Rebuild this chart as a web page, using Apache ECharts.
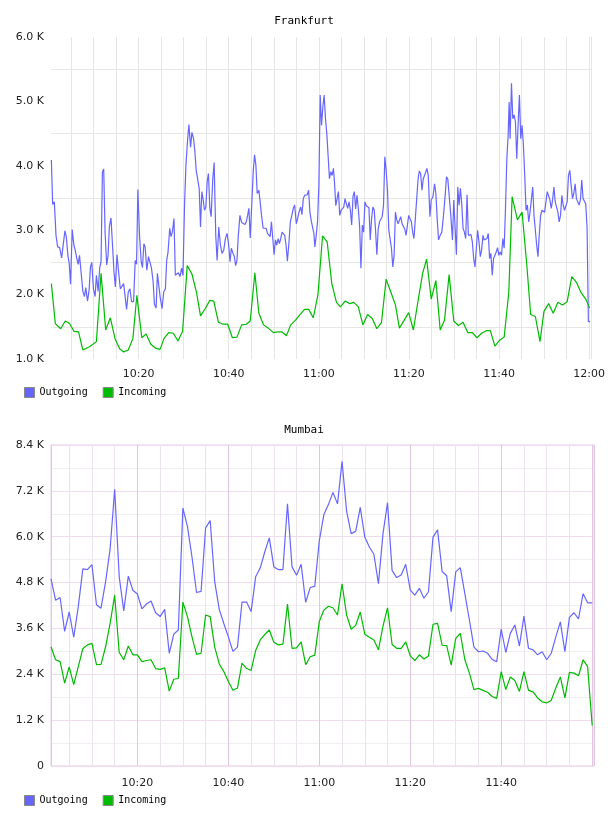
<!DOCTYPE html>
<html>
<head>
<meta charset="utf-8">
<title>Frankfurt / Mumbai</title>
<script src="https://cdn.jsdelivr.net/npm/echarts@6/dist/echarts.min.js"></script>
<style>
  html, body { margin: 0; padding: 0; background: #fff; }
  #chart { width: 608px; height: 816px; }
</style>
</head>
<body>
<div id="chart"></div>
<script>
// ---- data: [minutes after 10:00, value in K] ----
const seriesNames = ['Outgoing', 'Incoming'];

const frankfurtOut = [
  [0.63,4.09],[0.92,3.40],[1.29,3.44],[1.66,2.92],[2.02,2.74],[2.47,2.73],[2.91,2.57],[3.27,2.57],[3.64,2.99],[3.94,2.90],
  [4.30,2.61],[4.60,2.48],[4.89,2.16],[5.26,3.01],[5.63,2.77],[5.92,2.69],[6.29,2.56],[6.59,2.47],[6.88,2.61],[7.25,2.59],
  [7.62,2.05],[7.98,1.97],[8.28,2.11],[8.65,1.90],[9.01,2.07],[9.31,2.43],[9.60,2.50],[9.97,2.09],[10.34,1.97],[10.63,2.30],
  [11.00,2.05],[11.37,2.42],[11.66,2.51],[11.96,3.90],[12.25,3.95],[12.55,2.98],[12.91,2.46],[13.21,2.60],[13.50,3.05],[13.87,3.19],
  [14.24,2.72],[14.53,2.35],[14.83,2.12],[15.20,2.62],[15.56,2.35],[15.93,2.09],[16.30,2.12],[16.67,2.17],[16.96,2.15],[17.33,1.77],
  [17.70,2.04],[18.07,2.09],[18.43,1.89],[18.88,1.89],[19.24,2.53],[19.54,2.47],[19.83,3.63],[20.20,2.92],[20.57,2.51],[20.86,2.42],
  [21.16,2.79],[21.45,2.74],[21.82,2.38],[22.19,2.59],[22.48,2.59],[22.85,2.41],[23.22,2.20],[23.51,1.85],[23.88,1.79],[24.17,2.33],
  [24.47,2.30],[24.76,1.97],[25.20,1.78],[25.57,2.04],[25.94,2.09],[26.23,2.53],[26.53,2.66],[26.90,3.03],[27.19,2.90],[27.48,2.97],
  [27.85,3.18],[28.15,2.30],[28.51,2.31],[28.81,2.34],[29.18,2.28],[29.54,2.41],[29.84,2.30],[30.21,3.44],[30.50,4.01],[30.87,4.40],
  [31.16,4.64],[31.53,4.29],[31.83,4.52],[32.19,4.42],[32.49,4.22],[32.78,3.93],[33.08,3.91],[33.44,3.65],[33.74,3.05],[34.03,3.60],
  [34.33,3.47],[34.62,3.31],[34.92,3.36],[35.21,3.75],[35.50,3.88],[35.80,3.35],[36.09,3.21],[36.46,3.80],[36.76,4.05],[37.12,2.92],
  [37.42,2.53],[37.79,3.05],[38.15,2.77],[38.52,2.64],[38.89,2.69],[39.26,2.87],[39.63,2.95],[39.99,2.77],[40.29,2.51],[40.58,2.72],
  [40.95,2.64],[41.25,2.59],[41.54,2.45],[41.83,2.53],[42.13,2.92],[42.49,3.23],[42.86,3.12],[43.23,3.13],[43.60,3.09],[43.89,3.13],
  [44.19,3.23],[44.48,3.34],[44.77,2.88],[45.07,3.34],[45.44,3.91],[45.73,4.17],[46.03,4.01],[46.32,3.57],[46.69,3.62],[46.98,3.44],
  [47.28,3.23],[47.64,3.03],[47.94,3.02],[48.31,3.03],[48.60,2.95],[48.90,2.97],[49.19,2.90],[49.48,3.13],[49.78,2.87],[50.07,2.62],
  [50.37,2.85],[50.66,2.77],[50.96,2.87],[51.25,2.79],[51.54,2.87],[51.84,2.97],[52.13,2.95],[52.43,2.92],[52.72,2.77],[53.02,2.52],
  [53.38,2.82],[53.68,3.13],[54.05,3.13],[54.34,3.34],[54.63,3.39],[55.00,3.10],[55.30,3.18],[55.59,3.28],[55.96,3.36],[56.25,3.24],
  [56.55,3.49],[56.84,3.54],[57.14,3.52],[57.43,3.55],[57.73,3.62],[58.02,3.28],[58.31,3.15],[58.61,3.16],[58.90,2.95],[59.12,2.74],
  [59.42,2.92],[59.71,3.13],[60.01,3.70],[60.30,5.10],[60.60,4.63],[60.89,4.91],[61.18,5.10],[61.48,4.73],[61.77,4.50],[62.07,4.47],
  [62.36,3.80],[62.66,3.91],[62.95,3.85],[63.24,3.96],[63.47,3.75],[63.76,3.38],[64.05,3.49],[64.35,3.60],[64.64,3.23],[64.94,3.31],
  [65.23,3.28],[65.53,3.36],[65.82,3.49],[66.11,3.41],[66.41,3.34],[66.70,3.44],[67.00,3.31],[67.29,3.08],[67.59,3.53],[67.88,3.60],
  [68.17,3.33],[68.47,3.54],[68.76,3.34],[69.06,3.05],[69.35,2.41],[69.65,3.08],[69.94,2.97],[70.23,3.44],[70.53,3.38],[70.82,3.40],
  [71.12,3.35],[71.41,2.85],[71.71,3.18],[72.00,3.36],[72.30,3.31],[72.59,3.00],[72.88,2.62],[73.18,3.02],[73.47,3.13],[73.77,3.13],
  [74.06,3.21],[74.36,3.39],[74.65,4.14],[74.94,3.93],[75.24,3.62],[75.53,3.00],[75.83,2.97],[76.12,2.72],[76.42,2.43],[76.71,2.61],
  [77.00,3.28],[77.30,3.16],[77.59,3.10],[77.89,3.13],[78.18,3.21],[78.48,3.10],[78.77,3.13],[79.06,3.02],[79.36,2.92],[79.65,2.95],
  [79.95,3.23],[80.24,3.18],[80.54,3.13],[80.83,2.97],[81.12,2.87],[81.42,3.18],[81.71,3.21],[82.01,3.78],[82.30,3.92],[82.60,3.88],
  [82.89,3.62],[83.19,3.80],[83.48,3.83],[83.77,3.91],[83.99,3.96],[84.29,3.85],[84.66,3.21],[84.95,3.47],[85.32,3.52],[85.69,3.72],
  [85.98,3.57],[86.27,3.18],[86.57,2.85],[86.94,2.92],[87.30,2.97],[87.67,3.23],[88.04,3.54],[88.34,3.83],[88.63,3.79],[88.92,3.80],
  [89.29,3.23],[89.66,2.85],[89.95,3.47],[90.25,3.48],[90.54,2.62],[90.84,3.67],[91.13,3.39],[91.43,3.65],[91.72,3.41],[92.01,3.03],
  [92.31,2.97],[92.60,2.87],[92.90,3.55],[93.19,2.92],[93.49,2.90],[93.78,2.93],[94.07,2.82],[94.37,2.56],[94.66,2.43],[94.96,2.72],
  [95.25,3.00],[95.55,2.82],[95.84,2.59],[96.13,2.69],[96.43,2.92],[96.72,2.85],[97.02,2.85],[97.31,2.87],[97.61,2.95],[97.90,2.56],
  [98.19,2.64],[98.49,2.30],[98.78,2.56],[99.08,2.56],[99.37,2.66],[99.67,2.73],[99.96,2.61],[100.25,2.66],[100.55,2.61],[100.84,2.87],
  [101.14,2.72],[101.43,3.34],[101.73,4.11],[102.02,4.47],[102.24,4.99],[102.46,4.42],[102.76,5.28],[103.05,4.73],[103.35,4.79],[103.64,4.68],
  [103.93,4.11],[104.23,4.63],[104.52,5.10],[104.82,4.42],[105.11,4.63],[105.41,4.32],[105.70,3.85],[106.00,3.31],[106.29,3.39],[106.58,3.13],
  [106.88,3.28],[107.17,3.26],[107.47,3.67],[107.76,3.23],[108.06,3.00],[108.35,2.77],[108.64,2.59],[108.94,2.95],[109.23,3.23],[109.53,3.31],
  [109.82,3.28],[110.12,3.28],[110.41,3.31],[110.70,3.60],[111.00,3.57],[111.29,3.47],[111.59,3.34],[111.88,3.47],[112.18,3.67],[112.47,3.44],
  [112.76,3.44],[113.06,3.28],[113.35,3.13],[113.65,3.23],[113.94,3.54],[114.24,3.39],[114.53,3.31],[114.82,3.28],[115.12,3.44],[115.41,3.85],
  [115.71,3.93],[116.00,3.70],[116.30,3.49],[116.59,3.57],[116.89,3.72],[117.18,3.49],[117.47,3.44],[117.77,3.39],[118.06,3.47],[118.36,3.78],
  [118.65,3.49],[118.95,3.50],[119.24,3.41],[119.54,3.03],[119.83,1.58],[120.20,1.58]
];

const frankfurtIn = [
  [0.63,2.17],[1.51,1.55],[2.69,1.47],[3.72,1.59],[4.67,1.55],[5.63,1.43],[6.66,1.42],[7.62,1.14],[9.09,1.19],[10.63,1.27],
  [11.66,2.33],[12.69,1.45],[13.72,1.64],[14.75,1.32],[15.78,1.16],[16.67,1.11],[17.70,1.14],[18.73,1.32],[19.61,1.99],[20.71,1.33],
  [21.67,1.39],[22.70,1.23],[23.73,1.17],[24.76,1.15],[25.64,1.32],[26.67,1.41],[27.70,1.40],[28.73,1.28],[29.76,1.43],[30.79,2.45],
  [31.83,2.32],[32.86,2.03],[33.74,1.67],[34.77,1.78],[35.80,1.91],[36.68,1.90],[37.71,1.57],[38.74,1.54],[39.77,1.54],[40.80,1.33],
  [41.83,1.34],[42.86,1.53],[43.89,1.54],[44.77,1.59],[45.80,2.34],[46.69,1.71],[47.72,1.53],[48.75,1.48],[49.93,1.41],[50.81,1.42],
  [51.84,1.42],[52.80,1.36],[53.75,1.53],[54.78,1.60],[55.81,1.69],[56.84,1.77],[57.73,1.77],[58.76,1.64],[59.79,1.99],[60.82,2.91],
  [61.85,2.82],[62.88,2.17],[63.91,1.88],[64.79,1.81],[65.82,1.90],[66.85,1.86],[67.73,1.88],[68.76,1.81],[69.79,1.53],[70.82,1.69],
  [71.85,1.63],[72.88,1.47],[73.91,1.57],[74.94,2.24],[75.97,2.04],[77.00,1.84],[77.89,1.48],[78.92,1.60],[79.95,1.72],[80.98,1.45],
  [82.01,1.90],[83.04,2.33],[83.92,2.55],[84.95,1.93],[85.98,2.22],[86.94,1.45],[87.89,1.60],[88.92,2.31],[89.95,1.59],[90.98,1.52],
  [92.01,1.57],[93.04,1.41],[94.07,1.41],[95.10,1.33],[96.13,1.40],[97.17,1.44],[98.05,1.44],[99.08,1.20],[100.11,1.29],[101.14,1.34],
  [102.17,2.04],[102.90,3.52],[104.08,3.16],[105.11,3.28],[106.14,2.48],[107.02,1.69],[108.06,1.66],[109.09,1.27],[109.97,1.74],[111.00,1.86],
  [112.03,1.71],[113.06,1.88],[114.09,1.84],[115.12,1.89],[116.15,2.28],[117.18,2.19],[118.21,2.03],[119.24,1.93],[120.12,1.79]
];

// Mumbai: one sample per minute, 10:01 .. 12:00 (values in K)
const mumbaiOut = [
  4.90,4.34,4.41,3.52,4.03,3.37,4.17,5.16,5.14,5.27,
  4.22,4.13,4.82,5.68,7.24,4.95,4.06,4.97,4.60,4.50,
  4.11,4.24,4.32,4.01,3.91,4.10,2.95,3.45,3.56,6.75,
  6.27,5.47,4.54,4.57,6.23,6.42,4.82,4.10,3.73,3.38,
  3.00,3.11,4.29,4.29,4.04,4.95,5.18,5.60,5.97,5.21,
  5.14,5.14,6.86,5.21,4.99,5.28,4.28,4.67,4.70,5.90,
  6.58,6.84,7.16,6.86,7.97,6.67,6.08,6.14,6.77,5.99,
  5.73,5.54,4.77,6.08,6.89,5.12,4.93,5.00,5.28,4.60,
  4.47,4.65,4.39,4.56,5.99,6.18,5.09,4.98,4.04,5.08,
  5.19,4.51,3.82,3.11,2.99,3.01,2.95,2.79,2.73,3.58,
  2.97,3.47,3.69,3.14,3.92,3.08,3.04,2.91,2.99,2.78,
  2.95,3.38,3.77,2.99,3.89,4.01,3.85,4.51,4.27,4.27
];
const mumbaiIn = [
  3.12,2.78,2.73,2.17,2.59,2.13,2.60,3.07,3.17,3.21,
  2.65,2.66,3.12,3.73,4.47,2.97,2.78,3.14,2.91,2.91,
  2.73,2.76,2.78,2.55,2.53,2.57,1.96,2.27,2.29,4.29,
  3.91,3.38,2.92,2.95,3.95,3.91,3.11,2.67,2.47,2.21,
  1.98,2.04,2.69,2.55,2.50,3.02,3.30,3.44,3.56,3.24,
  3.17,3.19,4.24,3.08,3.09,3.25,2.65,2.86,2.90,3.78,
  4.08,4.18,4.14,3.95,4.77,3.95,3.58,3.68,4.03,3.45,
  3.37,3.30,3.04,3.66,4.14,3.18,3.08,3.08,3.25,2.88,
  2.76,2.91,2.80,2.88,3.71,3.73,3.16,3.15,2.64,3.34,
  3.47,2.78,2.43,2.00,2.03,1.98,1.93,1.82,1.77,2.47,
  2.00,2.33,2.24,1.95,2.47,1.98,1.94,1.78,1.68,1.65,
  1.72,2.04,2.33,1.78,2.45,2.43,2.36,2.78,2.60,1.06
];

// ---- helpers ----
// x is "minutes after 10:00" on a value axis, labelled as clock time
const pairs = arr => arr.map(p => [p[0], p[1] * 1000]);
const perMinute = arr => arr.map((v, i) => [i + 1, v * 1000]);

const COLOR_OUT = '#6666ff';
const COLOR_IN = '#00bb00';
const LABEL_FONT = 'DejaVu Sans';
const MONO_FONT = 'DejaVu Sans Mono';

const kFormat = v => v === 0 ? '0' : (v / 1000).toFixed(1) + ' K';
const clockFormat = lastMinute => m => {
  const r = Math.round(m);
  if (Math.abs(m - r) > 1e-6 || r % 20 || r > lastMinute) return '';
  const h = 10 + Math.floor(r / 60);
  return h + ':' + String(r % 60).padStart(2, '0');
};

const axisText = { color: '#222', fontFamily: LABEL_FONT, fontSize: 11 };

const chart = echarts.init(document.getElementById('chart'), null, { renderer: 'canvas' });

chart.setOption({
  backgroundColor: '#fff',
  animation: false,
  title: [
    { text: 'Frankfurt', left: 'center', top: 11, textStyle: { fontFamily: MONO_FONT, fontSize: 11, fontWeight: 'normal', color: '#000' } },
    { text: 'Mumbai', left: 'center', top: 420, textStyle: { fontFamily: MONO_FONT, fontSize: 11, fontWeight: 'normal', color: '#000' } },
  ],
  legend: [0, 1].map(i => ({
    data: seriesNames,
    left: 24, top: i === 0 ? 387 : 795, padding: 0,
    icon: 'rect', itemWidth: 10, itemHeight: 10, itemGap: 15,
    itemStyle: { borderColor: '#888', borderWidth: 1 },
    textStyle: { fontFamily: MONO_FONT, fontSize: 10, color: '#000' },
    selectedMode: false,
  })),
  grid: [
    { left: 51, right: 15, top: 37, height: 322 },
    { left: 51, right: 14, top: 445, height: 321, show: true, borderColor: '#e2cce2', borderWidth: 1, backgroundColor: 'transparent' },
  ],
  xAxis: [
    {
      type: 'value', gridIndex: 0, min: 0.55, max: 120.4,
      minInterval: 5, maxInterval: 5,
      axisLine: { show: false }, axisTick: { show: false },
      splitLine: { show: true, showMinLine: false, lineStyle: { color: '#e6e6e6', width: 1 } },
      axisLabel: { ...axisText, margin: 10, formatter: clockFormat(120), showMinLabel: false },
    },
    {
      type: 'value', gridIndex: 1, min: 1.0, max: 120.4,
      minInterval: 5, maxInterval: 5,
      axisLine: { show: false }, axisTick: { show: false },
      splitLine: { show: true, lineStyle: { color: '#ebe4ed', width: 1 } },
      axisLabel: { ...axisText, margin: 12, formatter: clockFormat(100), showMinLabel: false },
    },
    {
      // 20-minute major lines for Mumbai
      type: 'value', gridIndex: 1, min: 1.0, max: 120.4,
      minInterval: 20, maxInterval: 20, z: 1,
      axisLine: { show: false }, axisTick: { show: false }, axisLabel: { show: false },
      splitLine: { show: true, lineStyle: { color: '#e0c8e2', width: 1 } },
    },
  ],
  yAxis: [
    {
      type: 'value', gridIndex: 0, min: 1000, max: 6000, interval: 1000,
      axisLine: { show: false }, axisTick: { show: false },
      splitLine: { show: false },
      minorTick: { show: false, splitNumber: 2 },
      minorSplitLine: { show: true, lineStyle: { color: '#e6e6e6', width: 1 } },
      axisLabel: { ...axisText, margin: 7, formatter: kFormat },
    },
    {
      type: 'value', gridIndex: 1, min: 0, max: 8400, interval: 1200,
      axisLine: { show: false }, axisTick: { show: false },
      splitLine: { show: true, lineStyle: { color: '#f0dcef', width: 1 } },
      minorTick: { show: false, splitNumber: 2 },
      minorSplitLine: { show: true, lineStyle: { color: '#f1eef1', width: 1 } },
      axisLabel: { ...axisText, margin: 7, formatter: kFormat },
    },
  ],
  series: [
    { name: 'Outgoing', type: 'line', xAxisIndex: 0, yAxisIndex: 0, data: pairs(frankfurtOut), showSymbol: false, color: COLOR_OUT, lineStyle: { width: 1.2, color: COLOR_OUT } },
    { name: 'Incoming', type: 'line', xAxisIndex: 0, yAxisIndex: 0, data: pairs(frankfurtIn), showSymbol: false, color: COLOR_IN, lineStyle: { width: 1.2, color: COLOR_IN } },
    { name: 'Outgoing', type: 'line', xAxisIndex: 1, yAxisIndex: 1, data: perMinute(mumbaiOut), showSymbol: false, color: COLOR_OUT, lineStyle: { width: 1.2, color: COLOR_OUT } },
    { name: 'Incoming', type: 'line', xAxisIndex: 1, yAxisIndex: 1, data: perMinute(mumbaiIn), showSymbol: false, color: COLOR_IN, lineStyle: { width: 1.2, color: COLOR_IN } },
  ],
});
</script>
</body>
</html>
